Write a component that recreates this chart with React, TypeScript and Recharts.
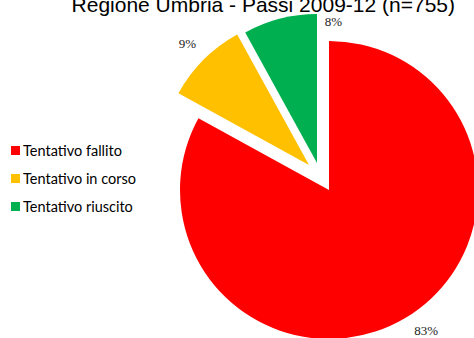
import React from 'react';
import { PieChart, Pie, Cell } from 'recharts';

// Regione Umbria - Passi 2009-12, tentativi di smettere di fumare
const categories = ['Tentativo fallito', 'Tentativo in corso', 'Tentativo riuscito'];
const percentages = [83, 9, 8];
const colors = ['#FF0000', '#FFC000', '#00B050'];

// exploded slice centres and label placement (Excel "best fit" look)
const sliceCentres = [
  { cx: 329, cy: 190 },
  { cx: 309, cy: 165 },
  { cx: 317, cy: 163 },
];
const labelRadius = [171, 172, 142];
const labelShift = [4, 0, -21];

const RADIAN = Math.PI / 180;
const data = categories.map((name, i) => ({ name, value: percentages[i] }));

const makeLabel = (own: number) => (props: any) => {
  const { cx, cy, midAngle, index, percent } = props;
  if (index !== own) return null;
  const a = (midAngle + labelShift[index]) * RADIAN;
  const r = labelRadius[index];
  const x = cx + r * Math.cos(a);
  const y = cy - r * Math.sin(a);
  return (
    <text
      x={x}
      y={y}
      textAnchor="middle"
      dominantBaseline="central"
      fill="#222"
      fontSize={13}
      fontFamily="'Liberation Serif', serif"
    >
      {`${Math.round(percent * 100)}%`}
    </text>
  );
};

const LegendBox = () => (
  <div style={{ position: 'absolute', left: 11, top: 136, fontFamily: 'Lato, sans-serif', fontSize: 14.5, color: '#000' }}>
    {categories.map((c, i) => (
      <div key={c} style={{ display: 'flex', alignItems: 'center', height: 28 }}>
        <span style={{ width: 9, height: 9, background: colors[i], marginRight: 3, display: 'inline-block' }} />
        <span>{c}</span>
      </div>
    ))}
  </div>
);

export default function App() {
  return (
    <div style={{ position: 'absolute', left: 0, top: 0, width: 474, height: 338, background: '#fff', overflow: 'hidden' }}>
      <PieChart width={474} height={338} margin={{ top: 0, right: 0, bottom: 0, left: 0 }}>
        <text x={455} y={12} textAnchor="end" fontSize={21} fontFamily="'Liberation Sans', Arial, sans-serif" fill="#000">
          Regione Umbria - Passi 2009-12 (n=755)
        </text>
        {sliceCentres.map((p, k) => (
          <Pie
            key={k}
            data={data}
            dataKey="value"
            nameKey="name"
            cx={p.cx}
            cy={p.cy}
            outerRadius={149}
            startAngle={90}
            endAngle={-270}
            stroke="none"
            label={makeLabel(k)}
            labelLine={false}
            isAnimationActive={false}
          >
            {data.map((d, i) => (
              <Cell key={d.name} fill={i === k ? colors[i] : 'transparent'} />
            ))}
          </Pie>
        ))}
      </PieChart>
      <LegendBox />
    </div>
  );
}
